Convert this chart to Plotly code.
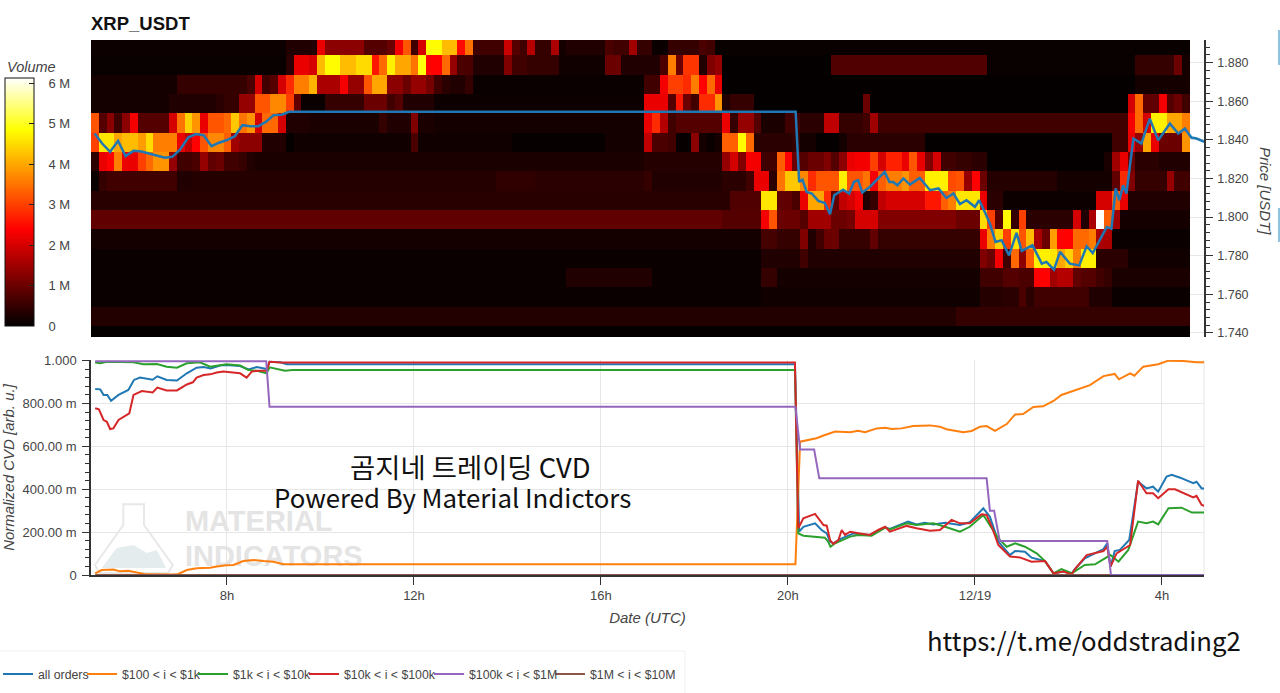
import plotly.graph_objects as go

# ---------- heatmap data: (last column of a run, volume in millions), one list per price row, top to bottom
n_cols = 141
row_0 = [(24,.12),(28,.3),(29,2.2),(34,1.3),(37,.8),(38,1.0),(39,2.3),(40,3.2),(41,.6),(42,2.0),(44,4.8),(46,4.2),(47,2.5),(48,3.5),(52,.6),(53,1.9),(54,.8),(55,.6),(56,1.7),(58,.5),(59,1.6),(60,.2),(65,.3),(66,.7),(68,.6),(69,1.5),(71,.5),(73,.1),(77,.5),(78,.7),(79,.6),(140,.08)]
row_1 = [(24,.08),(25,.4),(27,2.2),(28,2.0),(29,4.2),(31,4.8),(33,4.2),(35,4.5),(36,2.6),(37,3.4),(38,4.7),(40,4.0),(41,3.5),(42,4.9),(44,2.4),(45,3.4),(46,1.4),(48,.7),(52,.3),(53,1.2),(55,.6),(59,.5),(65,.15),(67,1.0),(72,.3),(73,.7),(74,3.6),(75,1.0),(77,2.9),(78,.3),(79,1.2),(80,1.4),(94,.05),(114,.75),(133,.08),(138,.5),(139,1.0),(140,.2)]
row_2 = [(10,.2),(19,.5),(20,.7),(21,2.0),(22,.6),(23,.8),(24,2.0),(25,2.8),(27,3.6),(28,4.1),(31,1.6),(32,2.3),(34,1.4),(35,3.2),(37,4.0),(39,1.3),(40,1.0),(42,1.4),(43,1.1),(44,.6),(45,.4),(47,.3),(48,.5),(70,.1),(72,.6),(73,2.3),(75,3.0),(76,2.8),(77,3.6),(78,2.4),(79,3.4),(80,2.2),(133,.05),(140,.2)]
row_3 = [(9,.2),(15,.3),(16,.4),(18,.5),(20,1.4),(22,3.2),(24,3.7),(25,3.0),(26,.9),(29,.1),(34,.5),(37,1.0),(38,.6),(39,.8),(43,.3),(70,.12),(73,2.2),(74,.8),(75,2.6),(76,1.0),(77,.6),(79,2.8),(80,3.8),(81,.3),(84,.5),(98,.05),(99,1.0),(132,.05),(133,2.0),(134,3.4),(136,.9),(137,2.3),(138,.8),(139,1.0),(140,.6)]
row_4 = [(0,3.2),(1,.8),(2,1.3),(3,.6),(4,1.3),(5,2.3),(9,.8),(10,2.0),(11,3.5),(12,4.4),(13,3.8),(14,2.2),(16,3.2),(17,3.4),(18,4.3),(19,3.5),(20,3.8),(21,2.0),(23,3.4),(24,2.0),(27,.3),(36,.25),(37,.5),(40,.3),(41,1.2),(43,.25),(70,.2),(71,2.2),(72,2.8),(73,1.7),(74,.6),(80,.8),(81,2.2),(82,.5),(84,1.4),(85,.8),(88,.25),(90,.6),(93,.4),(95,1.8),(98,.5),(99,.6),(100,1.5),(132,.6),(133,2.3),(134,3.4),(135,2.0),(137,4.7),(139,4.0),(140,3.6)]
row_5 = [(0,3.0),(2,4.6),(3,4.0),(5,4.2),(6,3.9),(7,4.5),(10,3.6),(11,2.2),(12,1.8),(13,2.4),(14,3.2),(16,3.7),(17,3.3),(18,1.5),(21,1.3),(24,.3),(25,.05),(40,.15),(41,.7),(53,.15),(65,.06),(70,.2),(71,1.8),(73,.7),(74,.6),(76,.06),(77,1.3),(78,.2),(79,.1),(80,.2),(82,3.3),(83,4.8),(84,3.4),(89,.4),(90,.5),(92,.2),(95,.05),(96,.2),(106,.4),(130,.05),(132,.6),(133,2.2),(134,1.4),(135,4.0),(136,2.2),(139,1.0),(140,3.8)]
row_6 = [(0,.4),(1,2.2),(2,2.4),(3,3.6),(5,2.2),(6,3.0),(7,3.4),(9,3.8),(10,1.4),(12,.6),(13,.7),(14,1.4),(15,.9),(16,1.0),(18,.6),(19,.5),(20,.3),(21,.25),(70,.25),(80,.35),(81,1.4),(82,2.0),(83,1.2),(85,2.3),(87,.6),(88,3.3),(89,2.4),(90,1.0),(91,.8),(93,1.0),(94,1.2),(95,.8),(96,1.3),(97,2.2),(99,2.3),(100,3.0),(101,2.0),(103,2.7),(104,2.2),(105,3.2),(106,2.2),(107,1.2),(108,2.0),(110,.6),(112,.5),(114,.4),(129,.05),(130,.25),(131,1.5),(132,2.2),(133,1.0),(136,.4),(140,.3)]
row_7 = [(0,.1),(1,.5),(10,.6),(12,.3),(51,.35),(56,.45),(70,.4),(71,.5),(80,.3),(83,.4),(84,.6),(86,2.2),(87,.4),(88,3.5),(90,4.3),(91,3.7),(92,2.8),(95,3.2),(96,4.7),(98,3.2),(99,3.5),(100,2.3),(101,3.3),(103,3.6),(104,3.8),(106,3.3),(109,4.7),(110,3.1),(111,3.2),(112,1.4),(113,2.4),(114,1.0),(123,.35),(130,.2),(131,.9),(132,2.8),(133,1.2),(137,.5),(138,1.4),(140,.6)]
row_8 = [(81,.38),(85,.75),(87,4.6),(89,.9),(90,.7),(91,2.2),(93,4.0),(94,2.8),(95,.9),(96,1.8),(97,2.0),(98,2.3),(99,.3),(100,.5),(101,1.8),(106,2.0),(108,2.6),(109,3.3),(110,3.6),(113,4.6),(114,2.2),(116,.4),(128,.12),(130,2.0),(131,3.3),(132,2.2),(140,.3)]
row_9 = [(80,.9),(85,.8),(86,2.3),(87,3.2),(90,1.0),(91,.8),(94,1.5),(96,1.0),(97,1.1),(100,2.0),(110,1.2),(113,1.0),(114,4.5),(115,3.0),(116,.8),(117,4.8),(118,.5),(119,3.0),(125,.4),(126,2.0),(127,.3),(128,1.6),(129,6.1),(130,3.3),(131,1.5),(140,.2)]
row_10 = [(85,.2),(87,.65),(90,.5),(91,1.2),(92,.3),(93,.6),(95,1.0),(99,.5),(100,.9),(113,.5),(114,2.2),(115,3.6),(116,4.4),(117,3.0),(118,4.6),(119,3.2),(120,4.2),(121,1.6),(122,1.0),(123,3.9),(125,2.4),(127,3.4),(128,3.6),(130,1.6),(140,.1)]
row_11 = [(85,.1),(90,.3),(91,.6),(113,.3),(114,1.2),(115,1.0),(116,2.3),(117,.6),(118,3.4),(119,1.3),(120,3.3),(122,4.7),(123,4.6),(124,4.0),(125,4.4),(126,3.6),(128,4.7),(132,.4),(140,.15)]
row_12 = [(60,.1),(71,.3),(85,.1),(87,.5),(113,.2),(116,.6),(118,.8),(120,.7),(122,2.4),(123,1.5),(125,1.7),(126,.9),(128,.8),(129,.6),(130,.5),(140,.25)]
row_13 = [(85,.1),(113,.15),(116,.35),(118,.4),(119,.7),(120,.4),(127,.6),(130,.3),(140,.1)]
row_14 = [(110,.32),(140,.5)]
row_15 = [(140,.05)]
price_rows = [1.8887,1.8787,1.8687,1.8587,1.8487,1.8387,1.8287,1.8187,1.8087,1.7987,1.7887,1.7787,1.7687,1.7587,1.7487,1.7387]

# ---------- price line (hours since 12/18 00:00, USDT)
price_hours = [5.17,5.33,5.50,5.67,5.83,6.00,6.17,6.33,6.50,6.67,6.83,7.00,7.17,7.33,7.50,7.67,7.83,8.00,8.17,8.33,8.50,8.67,8.83,9.00,9.17,9.33,20.165,20.24,20.31,20.40,20.51,20.65,20.79,20.90,20.99,21.08,21.18,21.31,21.41,21.50,21.59,21.75,21.90,22.07,22.17,22.25,22.34,22.47,22.61,22.82,23.04,23.22,23.39,23.54,23.68,23.82,24.00,24.09,24.21,24.32,24.44,24.57,24.73,24.89,25.00,25.23,25.43,25.53,25.69,25.82,26.03,26.23,26.39,26.52,26.82,26.92,27.01,27.09,27.17,27.24,27.39,27.56,27.74,27.92,28.17,28.35,28.49,28.63,28.74,28.92]
price_usdt = [1.8433,1.8381,1.8338,1.8395,1.8316,1.8343,1.8340,1.8330,1.8316,1.8307,1.8312,1.8350,1.8412,1.8430,1.8424,1.8367,1.8385,1.8399,1.8419,1.8476,1.8471,1.8471,1.8493,1.8528,1.8530,1.8545,1.8545,1.8182,1.8194,1.8130,1.8122,1.8084,1.8073,1.8015,1.8113,1.8125,1.8142,1.8122,1.8182,1.8191,1.8127,1.8156,1.8191,1.8234,1.8182,1.8182,1.8165,1.8200,1.8168,1.8203,1.8139,1.8148,1.8099,1.8122,1.8067,1.8087,1.8053,1.8087,1.8027,1.7966,1.7871,1.7880,1.7802,1.7918,1.7825,1.7854,1.7759,1.7768,1.7728,1.7820,1.7759,1.7750,1.7849,1.7814,1.7949,1.7940,1.8148,1.8087,1.8165,1.8122,1.8407,1.8381,1.8510,1.8398,1.8484,1.8433,1.8459,1.8412,1.8407,1.8389]

# ---------- normalized CVD series (hours, value)
all_hours = [5.18,5.29,5.36,5.44,5.52,5.68,5.89,6.01,6.14,6.28,6.41,6.51,6.71,6.93,7.14,7.35,7.50,7.65,7.85,7.99,8.28,8.46,8.64,8.85,8.91,9.14,9.28,20.15,20.24,20.33,20.58,20.72,20.83,20.90,20.97,21.15,21.40,21.75,22.08,22.18,22.57,22.75,22.93,23.11,23.36,23.68,23.89,24.18,24.32,24.50,24.75,24.86,25.07,25.21,25.50,25.68,25.89,26.07,26.14,26.35,26.75,26.83,26.90,26.99,27.10,27.30,27.49,27.67,27.81,27.92,28.10,28.21,28.39,28.67,28.74,28.85,28.91]
all_vals = [.868,.866,.840,.840,.813,.840,.863,.910,.921,.914,.911,.927,.910,.907,.941,.967,.970,.963,.977,.980,.975,.959,.970,.961,.995,.992,.983,.983,.202,.225,.241,.210,.194,.156,.148,.171,.194,.187,.221,.215,.249,.236,.244,.236,.244,.233,.246,.311,.272,.156,.093,.112,.109,.081,.065,.008,.016,.008,.028,.078,.121,.148,.039,.112,.117,.163,.435,.404,.412,.389,.459,.467,.454,.428,.435,.404,.404]
o100_hours = [5.18,5.32,5.57,5.71,5.89,6.28,6.85,6.96,7.14,7.35,7.64,7.78,7.99,8.14,8.35,8.57,8.78,8.99,9.21,20.16,20.26,20.44,20.61,20.79,21.01,21.33,21.50,21.65,21.90,22.08,22.22,22.43,22.68,23.04,23.25,23.39,23.75,23.93,24.11,24.25,24.43,24.68,24.86,25.03,25.25,25.46,25.68,25.85,26.10,26.32,26.46,26.75,26.92,26.99,27.08,27.17,27.32,27.41,27.60,27.92,28.14,28.46,28.74,28.91]
o100_vals = [.008,.023,.026,.017,.020,.003,.002,.005,.023,.031,.034,.040,.045,.047,.065,.070,.065,.062,.050,.050,.622,.630,.638,.653,.669,.666,.673,.666,.684,.687,.681,.684,.695,.698,.692,.680,.666,.672,.692,.695,.672,.704,.749,.751,.784,.787,.812,.840,.860,.877,.886,.928,.933,.938,.913,.925,.941,.930,.972,.983,1.000,.998,.992,.992]
o1k_hours = [5.18,5.29,5.43,6.00,6.21,6.50,6.71,6.93,7.14,7.42,7.64,7.85,7.99,8.28,8.46,8.64,8.85,8.91,9.06,9.24,9.40,20.15,20.22,20.33,20.79,20.86,20.91,21.01,21.33,21.50,21.79,22.08,22.18,22.54,22.75,23.11,23.36,23.68,23.89,24.18,24.36,24.50,24.68,24.86,25.07,25.32,25.50,25.68,25.85,26.07,26.35,26.57,26.78,26.90,27.07,27.28,27.49,27.67,27.81,27.92,28.14,28.42,28.64,28.91]
o1k_vals = [.991,.988,.995,.992,.983,.984,.972,.967,.988,.992,.972,.977,.983,.977,.956,.953,.941,.969,.961,.953,.956,.956,.194,.183,.174,.156,.132,.148,.179,.187,.183,.221,.213,.241,.233,.241,.225,.202,.225,.280,.218,.171,.132,.148,.132,.101,.065,.008,.028,.008,.047,.050,.078,.093,.062,.117,.249,.241,.249,.236,.311,.314,.291,.292]
o10k_hours = [5.18,5.26,5.36,5.43,5.50,5.57,5.68,5.91,6.00,6.18,6.41,6.51,6.71,6.93,7.14,7.27,7.35,7.50,7.64,7.78,7.92,8.28,8.42,8.53,8.67,8.85,8.91,9.14,20.15,20.22,20.33,20.58,20.76,20.83,20.90,20.97,21.08,21.15,21.22,21.33,21.54,21.75,21.93,22.08,22.18,22.54,22.75,23.04,23.25,23.50,23.68,23.89,24.14,24.25,24.36,24.50,24.75,24.96,25.21,25.50,25.68,25.89,26.07,26.14,26.39,26.75,26.83,26.90,27.03,27.32,27.49,27.67,27.81,27.92,28.14,28.28,28.67,28.74,28.85,28.91]
o10k_vals = [.778,.773,.723,.715,.681,.684,.723,.754,.840,.858,.852,.874,.861,.861,.889,.899,.921,.933,.936,.945,.949,.941,.921,.949,.953,.953,.995,.991,.991,.218,.264,.285,.233,.230,.163,.145,.163,.210,.187,.202,.194,.187,.210,.225,.202,.229,.218,.207,.210,.257,.241,.241,.283,.280,.225,.140,.086,.082,.062,.065,.008,.016,.003,.028,.093,.112,.132,.039,.101,.140,.440,.381,.381,.358,.400,.400,.362,.369,.327,.323]
o100k_hours = [5.18,8.84,8.91,20.16,20.26,20.56,20.67,24.25,24.32,24.41,24.53,26.83,26.91,28.91]
o100k_vals = [.997,.997,.785,.785,.586,.586,.451,.451,.300,.300,.159,.159,0,0]
o1m_hours = [5.18,28.91]
o1m_vals = [0,0]

tick_hours = [8,12,16,20,24,28]
tick_labels = ["8h","12h","16h","20h","12/19","4h"]
cvd_ticks = [0,.2,.4,.6,.8,1.0]
cvd_labels = ["0","200.00 m","400.00 m","600.00 m","800.00 m","1.000"]
vol_ticks = [0,1,2,3,4,5,6]
vol_labels = ["0","1 M","2 M","3 M","4 M","5 M","6 M"]

BLUE, ORANGE, GREEN, RED, PURPLE, BROWN = "#1f77b4","#ff7f0e","#2ca02c","#d62728","#9467bd","#8c564b"
SANS = "Liberation Sans"
W, H = 1280, 693
fx = lambda p: p / W
fy = lambda p: 1 - p / H
HOUR0, HOUR1 = 5.091, 28.90

def expand(segments):
    out = []
    for last, value in segments:
        out += [value] * (last + 1 - len(out))
    return out

rows = [row_0,row_1,row_2,row_3,row_4,row_5,row_6,row_7,row_8,row_9,row_10,row_11,row_12,row_13,row_14,row_15]
z = [expand(r) for r in rows][::-1]
col_hours = [HOUR0 + (c + .5) / 6 for c in range(n_cols)]

fig = go.Figure()
fig.add_trace(go.Heatmap(
    x=col_hours, y=price_rows[::-1], z=z, zmin=0, zmax=6.13, zsmooth=False, xaxis="x", yaxis="y", hoverinfo="skip",
    colorscale=[[0,"#000000"],[.39,"#ff0000"],[.79,"#ffff00"],[1,"#ffffff"]],
    colorbar=dict(x=fx(5), xanchor="left", y=fy(326), yanchor="bottom", xpad=0, ypad=0,
                  lenmode="pixels", len=248, thicknessmode="pixels", thickness=29,
                  outlinecolor="#111", outlinewidth=1, ticks="inside", ticklen=5, tickcolor="#222",
                  tickvals=vol_ticks, ticktext=["\u00a0\u00a0\u00a0" + t for t in vol_labels],
                  tickfont=dict(family=SANS, size=13, color="#444"))))
fig.add_trace(go.Scatter(x=price_hours, y=price_usdt, mode="lines", line=dict(color=BLUE, width=2.5),
                         xaxis="x", yaxis="y", showlegend=False))

# watermark under the CVD lines
fig.add_trace(go.Scatter(x=[7.10,7.10], y=[.238,.078], mode="text", text=["MATERIAL","INDICATORS"],
                         textposition="middle right", hoverinfo="skip", showlegend=False, xaxis="x2", yaxis="y2",
                         textfont=dict(family=SANS, size=29, color="#e4e4e4", weight="bold")))

series = [("all orders",all_hours,all_vals,BLUE,"legend"),
          ("$100 < i < $1k",o100_hours,o100_vals,ORANGE,"legend2"),
          ("$1k < i < $10k",o1k_hours,o1k_vals,GREEN,"legend3"),
          ("$10k < i < $100k",o10k_hours,o10k_vals,RED,"legend4"),
          ("$1M < i < $10M",o1m_hours,o1m_vals,BROWN,"legend6"),
          ("$100k < i < $1M",o100k_hours,o100k_vals,PURPLE,"legend5")]
for name, xs, ys, color, lg in series:
    fig.add_trace(go.Scatter(x=xs, y=ys, name=name, mode="lines", line=dict(color=color, width=2),
                             xaxis="x2", yaxis="y2", legend=lg))

legend_text_px = {"legend":38,"legend2":122,"legend3":233,"legend4":344,"legend5":469,"legend6":590}
legends = {k: dict(x=fx(v-40), xanchor="left", y=fy(674), yanchor="middle", bgcolor="rgba(0,0,0,0)",
                   borderwidth=0, itemwidth=30, tracegroupgap=0,
                   font=dict(family=SANS, size=12.3, color="#444"))
           for k, v in legend_text_px.items()}

GRID = "#e6e6e6"
LINE = "#333333"
def note(text, x, y, family, size, color="#111", **font):
    return dict(text=text, xref="paper", yref="paper", x=fx(x), y=fy(y), xanchor="center", yanchor="middle",
                showarrow=False, font=dict(family=family, size=size, color=color, **font))

fig.update_layout(
    width=W, height=H, autosize=False, margin=dict(l=0,r=0,t=0,b=0,autoexpand=False), paper_bgcolor="white", plot_bgcolor="white",
    title=dict(text="<b>XRP_USDT</b>", x=fx(91), xanchor="left", xref="paper", y=fy(24), yanchor="middle",
               font=dict(family=SANS, size=18.5, color="#111")),
    xaxis=dict(domain=[fx(91),fx(1204)], range=[HOUR0,HOUR1], visible=False, anchor="y"),
    yaxis=dict(domain=[fy(337),fy(40)], range=[1.7379,1.8917], side="right", anchor="x", dtick=.02, tick0=1.74,
               tickformat=".3f", ticks="outside", ticklen=7, tickcolor=LINE, showline=True, linecolor=LINE, linewidth=1.5,
               showgrid=True, gridcolor=GRID, zeroline=False, ticklabelstandoff=2,
               minor=dict(dtick=.004, tick0=1.74, ticks="outside", ticklen=4, tickcolor=LINE, showgrid=False),
               tickfont=dict(family=SANS, size=12.5, color="#444")),
    xaxis2=dict(domain=[fx(91),fx(1204)], range=[HOUR0,HOUR1], anchor="y2", tickvals=tick_hours, ticktext=tick_labels,
                ticks="outside", ticklen=8, tickcolor=LINE, showline=True, linecolor=LINE, linewidth=1.5,
                showgrid=True, gridcolor=GRID, zeroline=False, tickfont=dict(family=SANS, size=13, color="#444"),
                title=dict(text="Date (UTC)", standoff=10, font=dict(family=SANS, size=15, color="#444", style="italic"))),
    yaxis2=dict(domain=[fy(575),fy(360)], range=[0,1.003], anchor="x2", tickvals=cvd_ticks, ticktext=cvd_labels,
                ticks="outside", ticklen=7, tickcolor=LINE, showline=True, linecolor=LINE, linewidth=1.5,
                showgrid=True, gridcolor=GRID, zeroline=False, ticklabelstandoff=3,
                minor=dict(tickvals=[i/25 for i in range(26) if i % 5], ticks="outside", ticklen=4, tickcolor=LINE, showgrid=False),
                tickfont=dict(family=SANS, size=13, color="#444"),
                title=dict(text="Normalized CVD [arb. u.]", standoff=10, font=dict(family=SANS, size=15, color="#444", style="italic"))),
    annotations=[
        note("Volume", 31, 67, SANS, 14.5, "#444", style="italic"),
        dict(note("Price [USDT]", 1266, 191, SANS, 15, "#444", style="italic"), textangle=90),
        note("곰지네 트레이딩 CVD", 470, 466, "Noto Sans CJK KR", 27.4),
        note("Powered By Material Indictors", 452.5, 496, "Noto Sans CJK KR", 25.8),
        note("https://t.me/oddstrading2", 1083.5, 639, "Noto Sans CJK KR", 25.7),
    ],
    shapes=[
        dict(type="line", xref="paper", yref="paper", x0=fx(1204), x1=fx(1204), y0=fy(575), y1=fy(360), line=dict(color=GRID, width=1), layer="below"),
        dict(type="line", xref="paper", yref="paper", x0=0, x1=fx(685), y0=fy(651), y1=fy(651), line=dict(color="#f0f0f0", width=1), layer="below"),
        dict(type="line", xref="paper", yref="paper", x0=fx(685), x1=fx(685), y0=fy(651), y1=0, line=dict(color="#f0f0f0", width=1), layer="below"),
        dict(type="rect", xref="paper", yref="paper", x0=fx(1278), x1=1, y0=fy(65), y1=fy(30), line=dict(width=0), fillcolor="#8fc3dd", layer="below"),
        dict(type="rect", xref="paper", yref="paper", x0=fx(1278), x1=1, y0=fy(242), y1=fy(208), line=dict(width=0), fillcolor="#8fc3dd", layer="below"),
        dict(type="path", xref="paper", yref="paper", layer="below", line=dict(width=0), fillcolor="#e4ecee",
             path="M %f %f L %f %f L %f %f L %f %f L %f %f L %f %f Z" % (fx(101.7),fy(568),fx(116.7),fy(548),fx(133.3),fy(545),fx(146.7),fy(553),fx(156.7),fy(550),fx(166),fy(568))),
        dict(type="path", xref="paper", yref="paper", layer="below", line=dict(color="#e8e8e8", width=2),
             path="M %f %f L %f %f L %f %f L %f %f L %f %f L %f %f L %f %f L %f %f Z" % (fx(123.3),fy(504.3),fx(144),fy(504.3),fx(144),fy(525),fx(172.7),fy(565),fx(168),fy(573),fx(99.3),fy(573),fx(95),fy(565),fx(123.3),fy(525))),
    ],
    **legends,
)
fig.write_html("out.html", config={"displayModeBar": False},
               post_script="document.body.style.margin='0';document.body.style.overflow='hidden';")
